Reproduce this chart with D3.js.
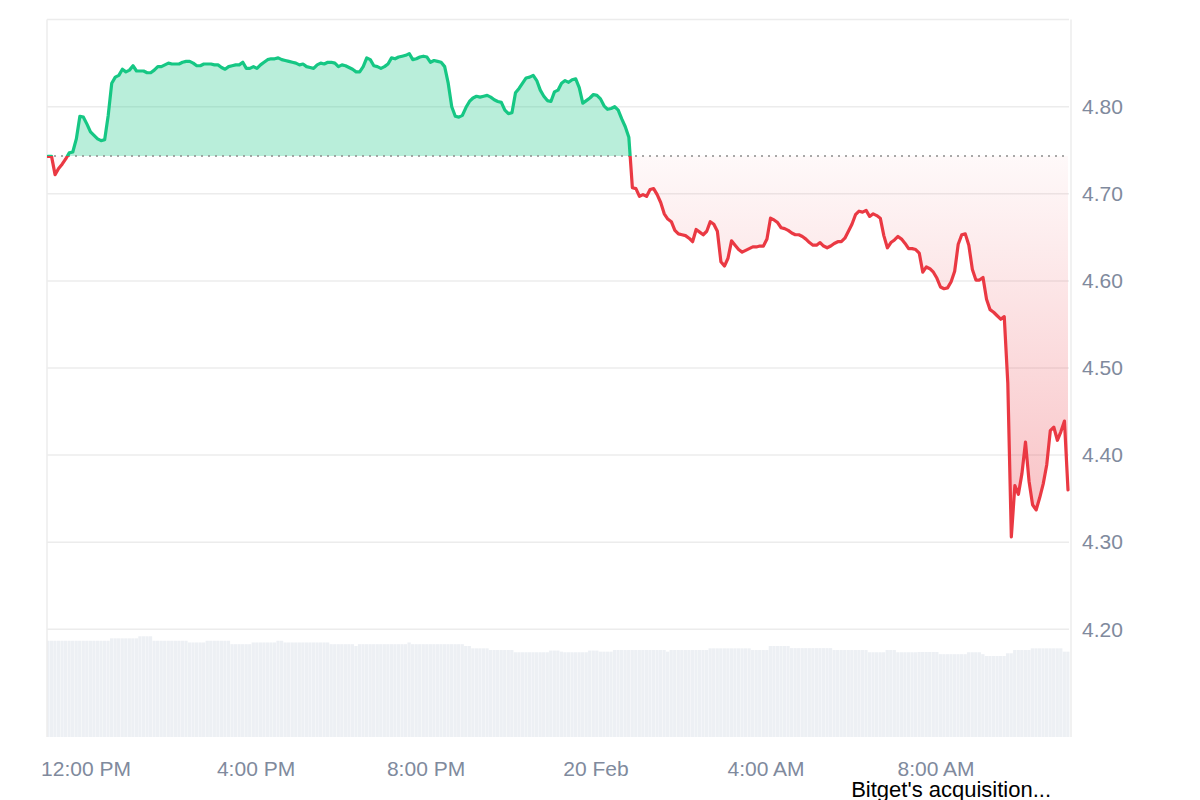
<!DOCTYPE html>
<html>
<head>
<meta charset="utf-8">
<script src="https://cdn.jsdelivr.net/npm/d3@7"></script>
<style>
  body { margin: 0; background: #fff; }
  text { font-family: "Liberation Sans", Arial, sans-serif; }
</style>
</head>
<body>
<svg id="chart" width="1200" height="800"></svg>
<script>
// 24h of 5-minute samples, first one at 11:07 AM, 19 Feb
var startTime = new Date(2025, 1, 19, 11, 7);
var stepMinutes = 5;

var prices = [
  4.743, 4.743, 4.722, 4.729, 4.734, 4.740, 4.747, 4.748, 4.763, 4.789,
  4.788, 4.780, 4.771, 4.767, 4.763, 4.761, 4.762, 4.790, 4.827, 4.834,
  4.836, 4.843, 4.840, 4.842, 4.847, 4.841, 4.841, 4.841, 4.839, 4.839,
  4.842, 4.846, 4.846, 4.848, 4.850, 4.849, 4.849, 4.849, 4.851, 4.852,
  4.852, 4.850, 4.847, 4.847, 4.849, 4.849, 4.849, 4.848, 4.848, 4.845,
  4.843, 4.846, 4.847, 4.848, 4.848, 4.851, 4.844, 4.844, 4.846, 4.844,
  4.848, 4.851, 4.854, 4.855, 4.855, 4.856, 4.854, 4.853, 4.852, 4.851,
  4.850, 4.848, 4.849, 4.846, 4.845, 4.844, 4.848, 4.850, 4.849, 4.851,
  4.851, 4.850, 4.846, 4.848, 4.847, 4.845, 4.843, 4.840, 4.840, 4.846,
  4.856, 4.854, 4.847, 4.846, 4.844, 4.846, 4.849, 4.856, 4.855, 4.857,
  4.858, 4.859, 4.861, 4.854, 4.855, 4.857, 4.858, 4.857, 4.851, 4.853,
  4.852, 4.851, 4.846, 4.827, 4.800, 4.789, 4.788, 4.790, 4.799, 4.806,
  4.810, 4.812, 4.811, 4.812, 4.813, 4.811, 4.808, 4.806, 4.805, 4.796,
  4.792, 4.793, 4.816, 4.821, 4.827, 4.833, 4.834, 4.836, 4.830, 4.819,
  4.812, 4.807, 4.806, 4.817, 4.819, 4.827, 4.830, 4.828, 4.831, 4.832,
  4.822, 4.804, 4.807, 4.810, 4.814, 4.813, 4.809, 4.801, 4.797, 4.798,
  4.800, 4.796, 4.786, 4.777, 4.765, 4.707, 4.706, 4.697, 4.699, 4.697,
  4.705, 4.706, 4.699, 4.690, 4.677, 4.671, 4.668, 4.658, 4.654, 4.653,
  4.652, 4.649, 4.645, 4.659, 4.656, 4.653, 4.657, 4.668, 4.665, 4.657,
  4.622, 4.617, 4.626, 4.646, 4.641, 4.636, 4.633, 4.635, 4.637, 4.639,
  4.639, 4.640, 4.640, 4.648, 4.672, 4.670, 4.667, 4.661, 4.660, 4.658,
  4.655, 4.653, 4.653, 4.651, 4.648, 4.644, 4.641, 4.641, 4.644, 4.640,
  4.638, 4.640, 4.643, 4.645, 4.645, 4.649, 4.657, 4.665, 4.676, 4.680,
  4.679, 4.681, 4.674, 4.677, 4.675, 4.672, 4.652, 4.638, 4.644, 4.647,
  4.651, 4.648, 4.643, 4.637, 4.637, 4.636, 4.632, 4.610, 4.616, 4.614,
  4.610, 4.603, 4.593, 4.591, 4.592, 4.599, 4.611, 4.642, 4.653, 4.654,
  4.641, 4.613, 4.601, 4.601, 4.604, 4.579, 4.567, 4.564, 4.560, 4.556,
  4.559, 4.483, 4.306, 4.365, 4.355, 4.379, 4.415, 4.370, 4.343, 4.337,
  4.351, 4.367, 4.389, 4.428, 4.432, 4.417, 4.427, 4.439, 4.360
];

// volume per 5-minute sample, millions USD
var volumes = [
  95.3, 95.3, 95.3, 95.3, 95.3, 95.3, 95.3, 95.3, 95.3, 95.3,
  95.3, 95.3, 95.3, 95.3, 95.3, 95.3, 95.3, 95.3, 97.7, 97.7,
  97.7, 97.7, 97.7, 97.7, 97.7, 97.7, 99.7, 99.7, 99.7, 99.7,
  95.3, 95.3, 95.3, 95.3, 95.3, 95.3, 95.3, 95.3, 95.3, 95.3,
  93.6, 93.6, 93.6, 93.6, 93.6, 95.3, 95.3, 95.3, 95.3, 95.3,
  95.3, 95.3, 91.9, 91.9, 91.9, 91.9, 91.9, 91.9, 93.6, 93.6,
  93.6, 93.6, 93.6, 93.6, 93.6, 95.3, 95.3, 93.6, 93.6, 93.6,
  93.6, 93.6, 93.6, 93.6, 93.6, 93.6, 93.6, 93.6, 93.6, 93.6,
  91.9, 91.9, 91.9, 91.9, 91.9, 91.9, 91.9, 90.1, 91.9, 91.9,
  91.9, 91.9, 91.9, 91.9, 91.9, 91.9, 91.9, 91.9, 91.9, 91.9,
  91.9, 91.9, 93.6, 91.9, 91.9, 91.9, 91.9, 91.9, 91.9, 91.9,
  91.9, 91.9, 91.9, 91.9, 91.9, 91.9, 91.9, 91.9, 90.1, 90.1,
  87.8, 87.8, 87.8, 87.8, 87.8, 86.1, 86.1, 86.1, 86.1, 86.1,
  86.1, 86.1, 83.9, 83.9, 83.9, 83.9, 83.9, 83.9, 83.9, 83.9,
  83.9, 83.9, 85.6, 85.6, 85.6, 84.5, 83.9, 83.9, 83.9, 83.9,
  83.9, 83.9, 83.9, 85.6, 85.6, 85.6, 84.5, 84.5, 84.5, 84.5,
  86.1, 86.1, 86.1, 86.1, 86.1, 86.1, 86.1, 86.1, 86.1, 86.1,
  86.1, 86.1, 86.1, 86.1, 86.1, 84.5, 86.1, 86.1, 86.1, 86.1,
  86.1, 86.1, 86.1, 86.1, 86.1, 86.1, 86.1, 87.8, 87.8, 87.8,
  87.8, 87.8, 87.8, 87.8, 87.8, 87.8, 87.8, 87.8, 87.8, 86.1,
  86.1, 86.1, 86.1, 86.1, 90.1, 90.1, 90.1, 90.1, 90.1, 90.1,
  88.0, 88.0, 88.0, 88.0, 88.0, 88.0, 88.0, 88.0, 88.0, 88.0,
  88.0, 88.0, 86.1, 86.1, 86.1, 86.1, 86.1, 86.1, 86.1, 86.1,
  86.1, 86.1, 83.9, 83.9, 83.9, 83.9, 83.9, 86.1, 86.1, 86.1,
  83.9, 83.9, 83.9, 83.9, 83.9, 83.9, 84.2, 84.2, 84.2, 84.2,
  84.2, 84.2, 82.0, 82.0, 82.0, 82.0, 82.0, 82.0, 82.0, 82.0,
  83.9, 83.9, 83.9, 83.9, 82.0, 80.2, 80.2, 80.2, 80.2, 80.2,
  80.2, 82.9, 82.9, 86.1, 86.1, 86.1, 86.1, 86.1, 87.8, 87.8,
  87.8, 87.8, 87.8, 87.8, 87.8, 87.8, 87.8, 84.5, 84.5
];

var openPrice = 4.7434;   // reference price for the dotted line
var gridValues = [4.2, 4.3, 4.4, 4.5, 4.6, 4.7, 4.8, 4.9];
var priceLabels = [4.2, 4.3, 4.4, 4.5, 4.6, 4.7, 4.8];
var timeTicks = [
  new Date(2025, 1, 19, 12, 0), new Date(2025, 1, 19, 16, 0), new Date(2025, 1, 19, 20, 0),
  new Date(2025, 1, 20, 0, 0), new Date(2025, 1, 20, 4, 0), new Date(2025, 1, 20, 8, 0)
];
var timeLabels = ["12:00 PM", "4:00 PM", "8:00 PM", "20 Feb", "4:00 AM", "8:00 AM"];
var eventTime = new Date(2025, 1, 20, 8, 22);
var eventLabel = "Bitget's acquisition...";

var green = "#16c784", red = "#ea3943", axisGrey = "#808a9d";

var svg = d3.select("#chart");
var plotLeft = 47, plotRight = 1071, plotBottom = 737;

var data = prices.map(function(p, i) {
  return { t: d3.timeMinute.offset(startTime, i * stepMinutes), price: p, vol: volumes[i] };
});

var x = d3.scaleTime()
  .domain([data[0].t, data[data.length - 1].t])
  .range([48, 1068]);
var y = d3.scaleLinear().domain([4.2, 4.8]).range([629.3, 106.7]);
var yVol = d3.scaleLinear().domain([0, 100]).range([plotBottom, 636]);
var plotTop = y(4.9);
var yBase = y(openPrice);
var yMin = y(d3.min(prices));

// clip paths + red gradient
var defs = svg.append("defs");
defs.append("clipPath").attr("id", "clip-plot").append("rect")
  .attr("x", plotLeft).attr("y", plotTop)
  .attr("width", plotRight - plotLeft).attr("height", plotBottom - plotTop);
defs.append("clipPath").attr("id", "clip-above").append("rect")
  .attr("x", plotLeft).attr("y", 0)
  .attr("width", plotRight - plotLeft).attr("height", yBase);
defs.append("clipPath").attr("id", "clip-below").append("rect")
  .attr("x", plotLeft).attr("y", yBase)
  .attr("width", plotRight - plotLeft).attr("height", plotBottom - yBase);

var grad = defs.append("linearGradient")
  .attr("id", "red-fade")
  .attr("gradientUnits", "userSpaceOnUse")
  .attr("x1", 0).attr("x2", 0)
  .attr("y1", yBase).attr("y2", yMin);
grad.append("stop").attr("offset", 0).attr("stop-color", red).attr("stop-opacity", 0.03);
grad.append("stop").attr("offset", 1).attr("stop-color", red).attr("stop-opacity", 0.32);

// volume bars
var barW = x(data[1].t) - x(data[0].t);
svg.append("g")
  .attr("clip-path", "url(#clip-plot)")
  .selectAll("rect")
  .data(data)
  .enter()
  .append("rect")
    .attr("x", function(d) { return x(d.t) - barW / 2; })
    .attr("y", function(d) { return yVol(d.vol); })
    .attr("width", barW - 0.3)
    .attr("height", function(d) { return plotBottom - yVol(d.vol); })
    .attr("fill", "#edf0f4");

// grid lines and side borders
svg.append("g").selectAll("line")
  .data(gridValues)
  .enter()
  .append("line")
    .attr("x1", plotLeft).attr("x2", plotRight - 2)
    .attr("y1", function(d) { return y(d); })
    .attr("y2", function(d) { return y(d); })
    .attr("stroke", "#ececec")
    .attr("stroke-width", 1.5);

svg.append("g").selectAll("line")
  .data([plotLeft, plotRight])
  .enter()
  .append("line")
    .attr("x1", function(d) { return d; }).attr("x2", function(d) { return d; })
    .attr("y1", plotTop).attr("y2", plotBottom)
    .attr("stroke", "#ececec")
    .attr("stroke-width", 1.5);

// filled areas
var area = d3.area()
  .x(function(d) { return x(d.t); })
  .y0(yBase)
  .y1(function(d) { return y(d.price); });

svg.append("path")
  .datum(data)
  .attr("clip-path", "url(#clip-above)")
  .attr("d", area)
  .attr("fill", green)
  .attr("fill-opacity", 0.3);

svg.append("path")
  .datum(data)
  .attr("clip-path", "url(#clip-below)")
  .attr("d", area)
  .attr("fill", "url(#red-fade)");

// dotted open price line
svg.append("line")
  .attr("x1", plotLeft).attr("x2", plotRight - 2)
  .attr("y1", yBase).attr("y2", yBase)
  .attr("stroke", "#8c8c8c")
  .attr("stroke-width", 1.5)
  .attr("stroke-dasharray", "2,5");

// price line, green above / red below
var line = d3.line()
  .x(function(d) { return x(d.t); })
  .y(function(d) { return y(d.price); });

[["clip-above", green], ["clip-below", red]].forEach(function(s) {
  svg.append("path")
    .datum(data)
    .attr("clip-path", "url(#" + s[0] + ")")
    .attr("d", line)
    .attr("fill", "none")
    .attr("stroke", s[1])
    .attr("stroke-width", 3.2)
    .attr("stroke-linejoin", "round")
    .attr("stroke-linecap", "round");
});

// axes
var xAxis = svg.append("g")
  .attr("transform", "translate(0,758)")
  .call(d3.axisBottom(x)
    .tickValues(timeTicks)
    .tickSize(0)
    .tickPadding(3)
    .tickFormat(function(d, i) { return timeLabels[i]; }));
xAxis.select(".domain").remove();
xAxis.selectAll("text")
  .attr("fill", axisGrey)
  .style("font-size", "21px")
  .style("font-family", "'Liberation Sans', Arial, sans-serif");

var yAxis = svg.append("g")
  .attr("transform", "translate(" + plotRight + ",0)")
  .call(d3.axisRight(y)
    .tickValues(priceLabels)
    .tickSize(0)
    .tickPadding(11)
    .tickFormat(d3.format(".2f")));
yAxis.select(".domain").remove();
yAxis.selectAll("text")
  .attr("fill", axisGrey)
  .style("font-size", "21px")
  .style("font-family", "'Liberation Sans', Arial, sans-serif");

// event label under the axis
svg.append("text")
  .attr("x", x(eventTime))
  .attr("y", 797)
  .attr("text-anchor", "middle")
  .attr("fill", "#000")
  .style("font-size", "22px")
  .text(eventLabel);
</script>
</body>
</html>
